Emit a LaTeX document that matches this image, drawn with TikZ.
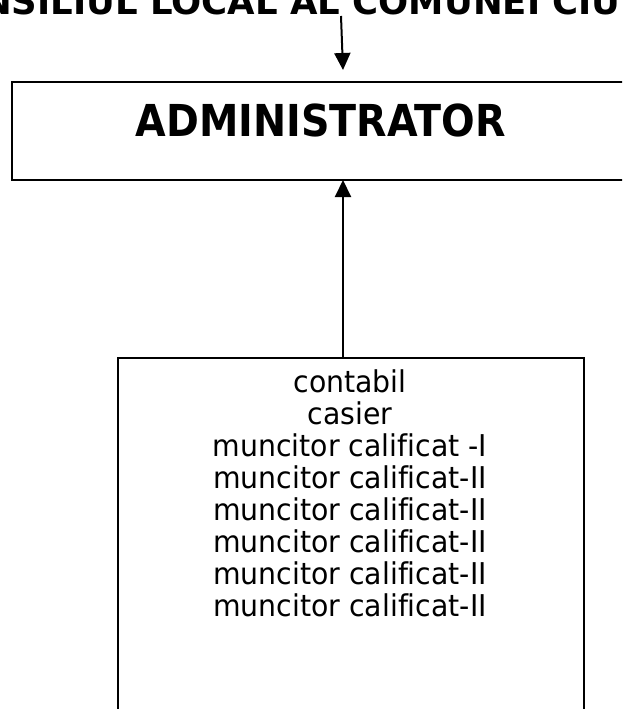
\documentclass[tikz,border=0pt]{standalone}
\usepackage{fontspec}
\setmainfont{DejaVu Sans}
\newfontfamily\titlefont[FakeStretch=0.9]{DejaVu Sans}
\newfontfamily\listfont[FakeStretch=0.945,Ligatures=NoCommon]{DejaVu Sans}
\usetikzlibrary{arrows.meta}
\begin{document}
\begin{tikzpicture}[x=1pt,y=-1pt,
  box/.style={draw, line width=2pt, inner sep=0pt, anchor=north west},
  arr/.style={line width=2pt, -{Triangle[width=16pt,length=17pt]}},
  headtext/.style={inner sep=0pt, anchor=base west, font=\fontsize{35.5}{40}\selectfont\bfseries},
  titletext/.style={inner sep=0pt, anchor=base, font=\titlefont\bfseries\fontsize{44}{50}\selectfont},
  listtext/.style={inner sep=0pt, anchor=north, align=center, font=\listfont\fontsize{30}{32}\selectfont}]
\useasboundingbox (0,0) rectangle (622,709);
\clip (0,0) rectangle (622,709);
\node[headtext] (council) at (-18,15) {NSILIUL LOCAL AL COMUNEI CIU};
\node[box, minimum width=620pt, minimum height=98pt] (admin) at (11,81) {};
\node[titletext] (admintext) at (321,136) {ADMINISTRATOR};
\node[box, minimum width=466pt, minimum height=400pt] (staff) at (117,357) {};
\node[listtext] (list) at (350,369) {contabil\\casier\\muncitor calificat -I\\muncitor calificat-II\\muncitor calificat-II\\muncitor calificat-II\\muncitor calificat-II\\muncitor calificat-II};
\coordinate (c1) at (341,16);
\coordinate (a1) at (343,70);
\coordinate (s1) at (343,357);
\coordinate (a2) at (343,180);
\draw[arr] (c1) -- (a1);
\draw[arr] (s1) -- (a2);
\end{tikzpicture}
\end{document}
